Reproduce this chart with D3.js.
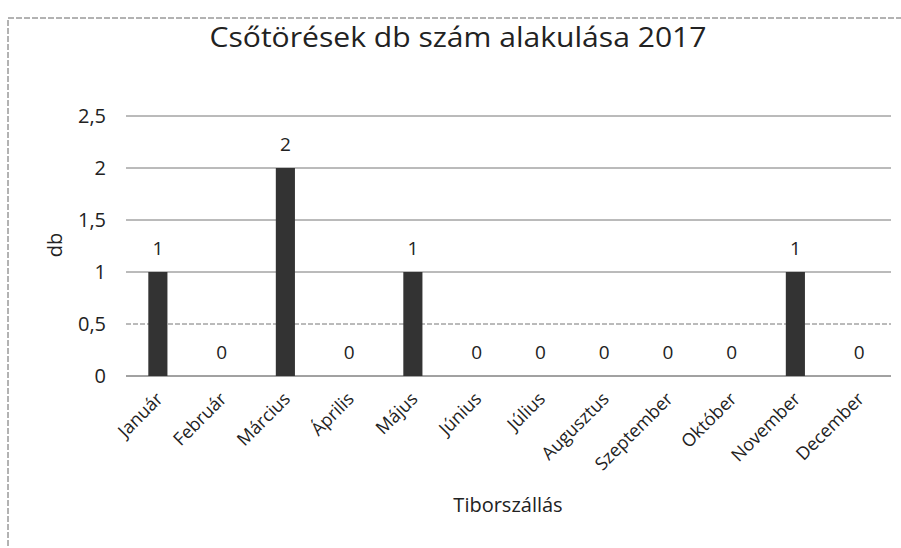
<!DOCTYPE html>
<html>
<head>
<meta charset="utf-8">
<script src="https://cdn.jsdelivr.net/npm/d3@7"></script>
<style>
    body { margin: 0; background: #fff; }
    text { font-family: "Open Sans", sans-serif; fill: #222; }
</style>
</head>
<body>
<svg id="chart"></svg>
<script>
const months = ['Január', 'Február', 'Március', 'Április', 'Május', 'Június',
    'Július', 'Augusztus', 'Szeptember', 'Október', 'November', 'December'];
const counts = [1, 0, 2, 0, 1, 0, 0, 0, 0, 0, 1, 0];
const yTicks = [0, 0.5, 1, 1.5, 2, 2.5];

const width = 901;
const height = 548;
const plot = {left: 126, right: 891, top: 116, bottom: 376};

const svg = d3.select('#chart')
    .attr('width', width)
    .attr('height', height);

// scanned page frame
svg.append('rect')
    .attr('x', 8).attr('y', 18)
    .attr('width', 900).attr('height', 560)
    .attr('fill', 'none')
    .attr('stroke', '#666')
    .attr('stroke-dasharray', '6,2');

const x = d3.scaleBand()
    .domain(months)
    .range([plot.left, plot.right])
    .paddingInner(0.7)
    .paddingOuter(0.35);

const y = d3.scaleLinear()
    .domain([0, 2.5])
    .range([plot.bottom, plot.top]);

const fmt = d => String(d).replace('.', ',');

// gridlines
svg.append('g')
    .selectAll('line')
    .data(yTicks)
    .enter().append('line')
    .attr('x1', plot.left)
    .attr('x2', plot.right)
    .attr('y1', d => y(d))
    .attr('y2', d => y(d))
    .attr('stroke', d => d === 0 ? '#444' : '#777')
    .attr('stroke-width', 1)
    .attr('stroke-dasharray', d => d === 0.5 ? '5,2' : null);

// y axis labels
svg.append('g')
    .selectAll('text')
    .data(yTicks)
    .enter().append('text')
    .attr('x', 106)
    .attr('y', d => y(d))
    .attr('dy', '0.35em')
    .attr('text-anchor', 'end')
    .style('font-size', '20px')
    .text(fmt);

// bars
svg.append('g')
    .selectAll('rect')
    .data(counts)
    .enter().append('rect')
    .attr('x', (d, i) => x(months[i]))
    .attr('y', d => y(d))
    .attr('width', x.bandwidth())
    .attr('height', d => y(0) - y(d))
    .attr('fill', '#333');

// value labels
svg.append('g')
    .selectAll('text')
    .data(counts)
    .enter().append('text')
    .attr('x', (d, i) => x(months[i]) + x.bandwidth() / 2)
    .attr('y', d => y(d) - 17)
    .attr('text-anchor', 'middle')
    .style('font-size', '19px')
    .text(d => d);

// month labels
svg.append('g')
    .selectAll('text')
    .data(months)
    .enter().append('text')
    .attr('text-anchor', 'end')
    .attr('transform', d => `translate(${x(d) + x.bandwidth() / 2 + 6}, ${plot.bottom + 24}) rotate(-45)`)
    .style('font-size', '18px')
    .text(d => d);

// title
svg.append('text')
    .attr('x', 458)
    .attr('y', 47)
    .attr('text-anchor', 'middle')
    .attr('textLength', 497)
    .attr('lengthAdjust', 'spacingAndGlyphs')
    .style('font-size', '27px')
    .text('Csőtörések db szám alakulása 2017');

// axis titles
svg.append('text')
    .attr('transform', 'translate(62, 245) rotate(-90)')
    .attr('text-anchor', 'middle')
    .style('font-size', '20px')
    .text('db');

svg.append('text')
    .attr('x', 508)
    .attr('y', 512)
    .attr('text-anchor', 'middle')
    .style('font-size', '20px')
    .text('Tiborszállás');
</script>
</body>
</html>
